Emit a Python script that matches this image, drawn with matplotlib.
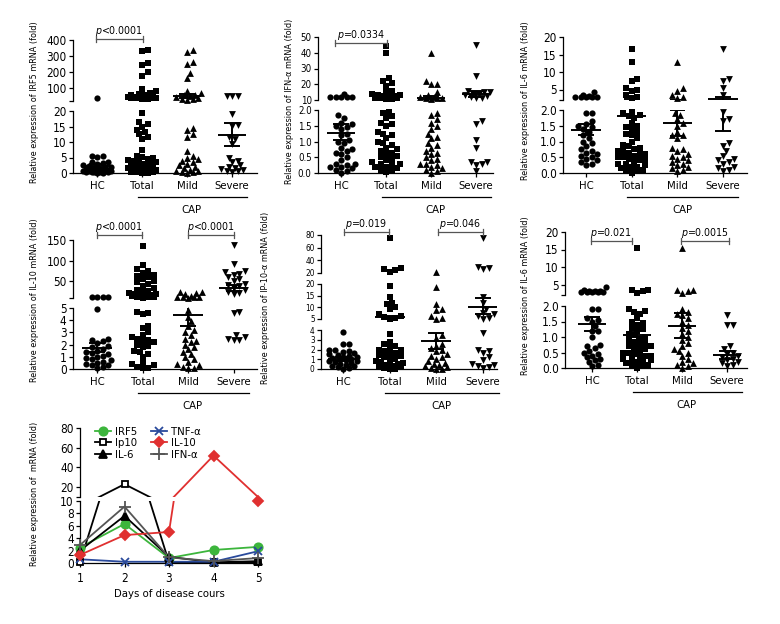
import numpy as np
import matplotlib
matplotlib.use("Agg")
import matplotlib.pyplot as plt
from matplotlib import font_manager as fm
from matplotlib.lines import Line2D

# pick a narrow face if one is installed
faces = {(f.name, f.stretch) for f in fm.fontManager.ttflist}
names = {n for n, s in faces}
if "Liberation Sans Narrow" in names:
    FAMILY, STRETCH, SCALE = "Liberation Sans Narrow", "normal", 1.0
elif ("DejaVu Sans", "condensed") in faces:
    FAMILY, STRETCH, SCALE = "DejaVu Sans", "condensed", 0.9
else:
    FAMILY, STRETCH, SCALE = "Liberation Sans", "normal", 0.85

plt.rcParams["font.family"] = [FAMILY, "DejaVu Sans"]
plt.rcParams["font.stretch"] = STRETCH
plt.rcParams["mathtext.fontset"] = "custom"
plt.rcParams["mathtext.it"] = FAMILY + ":italic"
plt.rcParams["mathtext.rm"] = FAMILY
plt.rcParams["axes.linewidth"] = 0.9

W, H = 780, 624
groups = ["HC", "Total", "Mild", "Severe"]
markers = ["o", "s", "^", "v"]

# ---- IRF5 ----
irf5_hc = [40, 5.5, 5.2, 5.4, 3.6, 3.2, 3.0, 3.4, 2.5, 2.2, 2.0, 1.8, 1.5, 1.3, 1.2,
           1.0, 1.0, 0.9, 0.8, 0.7, 0.6, 0.5, 0.5, 0.4, 0.3, 0.3, 0.2, 0.2, 0.1, 0.1]
irf5_total = [340, 330, 255, 245, 200, 175, 95, 80, 70, 65, 60, 55, 50, 48, 45, 44, 43,
              42, 41, 40, 40, 39, 38, 37, 36, 35, 33,
              19.5, 16.5, 15.8, 15, 14, 13.2, 12.5, 11.5, 11, 7.5, 5.5, 5.2, 4.8, 4.5,
              4.2, 4, 3.8, 3.5, 3.2, 3, 2.8, 2.5, 2.3, 2, 1.8, 1.5, 1.2, 1, 0.8, 0.6,
              0.5, 0.4, 0.3, 0.2, 0.1, 0.1]
irf5_mild = [340, 325, 260, 250, 195, 165, 85, 70, 60, 55, 50, 45, 40, 35, 30, 25,
             14.5, 14, 12.5, 11.5, 7, 5.5, 5, 4.5, 4, 3.5, 3, 2.5, 2, 1.5, 1, 0.8,
             0.5, 0.3, 0.2, 0.1]
irf5_severe = [50, 50, 50, 19, 15.5, 15.2, 11.5, 11, 9.5, 5, 4, 3.5, 2.5, 2, 1.5, 1.2,
               1, 0.8, 0.5, 0.3]
irf5_mean = [2.3, 40, 53, 12.3]
irf5_lo = [1.6, 34, 40, 8.7]
irf5_hi = [3.0, 47, 66, 16.0]

# ---- IFN-alpha ----
ifna_hc = [14, 12, 12, 12, 12, 12, 1.85, 1.75, 1.6, 1.55, 1.5, 1.45, 1.4, 1.25, 1.2,
           1.05, 1.0, 0.95, 0.8, 0.75, 0.7, 0.65, 0.6, 0.5, 0.4, 0.3, 0.3, 0.25, 0.2,
           0.2, 0.15, 0.1, 0.05, 0.0]
ifna_total = [44, 40, 24, 22, 21, 19, 16, 15, 14, 13, 13, 12.5, 12, 12, 11.5, 11, 11,
              10.5, 10.5, 1.95, 1.9, 1.8, 1.75, 1.6, 1.55, 1.5, 1.3, 1.25, 1.2, 1.1,
              1.0, 0.95, 0.9, 0.8, 0.75, 0.7, 0.65, 0.6, 0.55, 0.5, 0.45, 0.4, 0.35,
              0.3, 0.3, 0.25, 0.2, 0.2, 0.15, 0.1, 0.05, 0.02]
ifna_mild = [40, 22, 20, 20, 15, 13, 12, 12, 11.5, 11, 11, 10.5, 1.9, 1.85, 1.7, 1.6,
             1.5, 1.4, 1.25, 1.15, 1.1, 0.95, 0.9, 0.8, 0.7, 0.65, 0.6, 0.5, 0.45,
             0.4, 0.3, 0.3, 0.25, 0.2, 0.15, 0.1, 0.05, 0.0]
ifna_severe = [45, 25, 16, 15, 15, 14, 13.5, 13, 12.5, 12, 11.5, 11, 1.65, 1.55, 1.05,
               0.8, 0.35, 0.35, 0.3, 0.25, 0.05]
ifna_mean = [1.27, 12, 11, 14]
ifna_lo = [1.05, 10.5, 10, 12]
ifna_hi = [1.55, 13.5, 12.5, 16]

# ---- IL-6 (top row) ----
il6a_hc = [4.3, 3.5, 3, 2.8, 2.8, 2.8, 2.9, 3.2, 1.9, 1.9, 1.65, 1.55, 1.5, 1.45, 1.4,
           1.3, 1.2, 1.1, 1.0, 0.95, 0.85, 0.75, 0.7, 0.65, 0.6, 0.55, 0.5, 0.45, 0.4,
           0.35, 0.3, 0.25]
il6a_total = [16.5, 13, 8, 7.5, 5.5, 5, 4.5, 3.5, 3, 2.5, 1.95, 1.9, 1.85, 1.8, 1.75,
              1.6, 1.5, 1.45, 1.4, 1.3, 1.25, 1.2, 1.1, 1.0, 0.9, 0.85, 0.8, 0.75, 0.7,
              0.7, 0.65, 0.6, 0.6, 0.55, 0.5, 0.5, 0.45, 0.4, 0.4, 0.35, 0.3, 0.3,
              0.25, 0.2, 0.2, 0.15, 0.1, 0.1, 0.05, 0.0]
il6a_mild = [13, 5.5, 4.5, 3.5, 3, 2.5, 1.9, 1.85, 1.7, 1.6, 1.5, 1.3, 1.2, 1.2, 1.1,
             0.8, 0.75, 0.7, 0.6, 0.55, 0.5, 0.45, 0.4, 0.35, 0.3, 0.25, 0.2, 0.15,
             0.1, 0.05]
il6a_severe = [16.5, 8, 7.5, 5.5, 3.5, 1.95, 1.7, 1.65, 0.95, 0.85, 0.7, 0.55, 0.45,
               0.4, 0.35, 0.3, 0.2, 0.15, 0.1, 0.05]
il6a_mean = [1.37, 1.8, 1.58, 2.3]
il6a_lo = [1.2, 1.43, 1.17, 1.33]
il6a_hi = [1.55, 2.17, 2.0, 3.0]

# ---- IL-10 ----
il10_hc = [12, 12, 12, 12, 4.9, 2.5, 2.4, 2.3, 2.1, 1.9, 1.8, 1.6, 1.5, 1.4, 1.3, 1.2,
           1.1, 1.0, 0.9, 0.8, 0.7, 0.6, 0.5, 0.4, 0.3, 0.3, 0.2, 0.1]
il10_total = [135, 90, 80, 75, 70, 65, 62, 60, 55, 50, 48, 45, 40, 35, 30, 28, 25, 22,
              20, 20, 18, 16, 15, 14, 13, 12, 12, 11, 4.7, 4.6, 4.5, 3.5, 3.4, 3.0,
              2.8, 2.6, 2.5, 2.4, 2.3, 2.2, 2.0, 1.9, 1.8, 1.5, 1.4, 1.2, 1.0, 0.5,
              0.4, 0.3, 0.2, 0.1, 0.05]
il10_mild = [25, 25, 22, 20, 15, 13, 12, 12, 12, 11, 4.8, 4.3, 3.9, 3.5, 3.2, 3.0, 2.8,
             2.5, 2.3, 2.2, 2.0, 1.8, 1.6, 1.4, 1.2, 1.0, 0.8, 0.6, 0.4, 0.3, 0.2,
             0.1, 0.05]
il10_severe = [138, 92, 75, 72, 68, 65, 60, 55, 50, 45, 42, 38, 35, 30, 25, 22, 20,
               4.7, 4.6, 2.8, 2.6, 2.5, 2.4, 2.4]
il10_mean = [1.75, 17, 4.4, 35]
il10_lo = [1.4, 12, 3.5, 28]
il10_hi = [2.1, 22, 5.2, 42]

# ---- IP-10 ----
ip10_hc = [3.8, 2.6, 2.6, 2.0, 1.9, 1.8, 1.7, 1.6, 1.5, 1.4, 1.3, 1.2, 1.1, 1.0, 0.9,
           0.8, 0.7, 0.6, 0.5, 0.4, 0.3, 0.3, 0.2, 0.1, 0.05, 1.2, 1.0, 0.8]
ip10_total = [75, 28, 27, 25, 22, 19, 14.5, 12, 11.5, 10, 9.5, 7, 6.5, 6, 5.5, 5,
              3.6, 2.8, 2.6, 2.4, 2.2, 2.0, 1.9, 1.8, 1.6, 1.5, 1.4, 1.3, 1.2, 1.0,
              0.9, 0.8, 0.7, 0.6, 0.5, 0.4, 0.3, 0.3, 0.2, 0.1, 0.05, 0.0]
ip10_mild = [21, 18.5, 11.5, 9.5, 9, 6.5, 5.5, 5.0, 3.5, 3.2, 2.6, 2.4, 2.2, 2.0, 1.8,
             1.5, 1.3, 1.2, 1.0, 0.8, 0.6, 0.5, 0.4, 0.3, 0.2, 0.1, 0.05, 0.0]
ip10_severe = [75, 30, 28, 26, 14.5, 12, 9.5, 7.5, 7, 6.5, 5.5, 5.0, 3.7, 2.0, 1.8,
               1.6, 1.2, 0.9, 0.5, 0.4, 0.3, 0.2, 0.1]
ip10_mean = [1.0, 5.8, 2.9, 10.3]
ip10_lo = [0.8, 5.2, 2.1, 7.0]
ip10_hi = [1.2, 6.5, 3.7, 14.0]

# ---- IL-6 (second row) ----
il6b_hc = [4.3, 3.5, 3.2, 3.0, 3.0, 2.8, 2.8, 2.9, 3.1, 3.2, 1.9, 1.9, 1.6, 1.55, 1.5,
           1.35, 1.2, 1.2, 1.0, 0.75, 0.7, 0.65, 0.55, 0.5, 0.45, 0.4, 0.35, 0.3,
           0.25, 0.2, 0.1, 0.05]
il6b_total = [15.5, 3.5, 3.3, 3.2, 2.5, 1.9, 1.85, 1.8, 1.75, 1.6, 1.5, 1.45, 1.4, 1.3,
              1.25, 1.2, 1.1, 1.05, 1.0, 0.95, 0.9, 0.85, 0.8, 0.75, 0.7, 0.7, 0.65,
              0.6, 0.55, 0.5, 0.5, 0.45, 0.4, 0.4, 0.35, 0.3, 0.3, 0.25, 0.2, 0.2,
              0.15, 0.1, 0.1, 0.05, 0.0]
il6b_mild = [15.5, 3.5, 3.3, 3.2, 2.5, 1.9, 1.8, 1.75, 1.7, 1.6, 1.5, 1.4, 1.3, 1.2,
             1.1, 1.0, 0.9, 0.8, 0.7, 0.6, 0.55, 0.5, 0.4, 0.3, 0.2, 0.15, 0.1, 0.05,
             0.0]
il6b_severe = [1.7, 1.4, 1.38, 0.7, 0.6, 0.5, 0.45, 0.4, 0.35, 0.3, 0.25, 0.2, 0.15,
               0.1, 0.05]
il6b_mean = [1.42, 1.05, 1.37, 0.42]
il6b_lo = [1.2, 0.9, 0.97, 0.3]
il6b_hi = [1.65, 1.2, 1.77, 0.55]

# ---- time course ----
days = [1, 2, 3, 4, 5]
tc_irf5 = [2.5, 6.3, 0.8, 2.1, 2.6]
tc_ip10 = [0.1, 23, 0.1, 0.1, 0.1]
tc_il6 = [2.0, 7.6, 1.0, 0.1, 0.3]
tc_tnfa = [0.6, 0.2, 0.2, 0.2, 1.9]
tc_il10 = [1.3, 4.5, 5.0, 52, 10]
tc_ifna = [2.9, 9.1, 0.9, 0.3, 0.8]

FS_TICK = 9.4 * SCALE
FS_CAT = 9 * SCALE
FS_YLAB = 7.2 * SCALE
FS_P = 8.4 * SCALE


def fx(px):
    return px / W


def fy(py):
    return 1 - py / H


def px_axes(fig, x0, x1, y0, y1):
    return fig.add_axes([fx(x0), fy(y1), (x1 - x0) / W, (y1 - y0) / H])


def swarm(ys, d=5.5, maxw=14):
    xs = np.zeros(len(ys))
    placed = []
    for i in np.argsort(ys):
        y = ys[i]
        chosen, best_off, best_d = None, 0, -1
        for k in range(60):
            off = ((k + 1) // 2) * d * 0.5 * (1 if k % 2 else -1)
            if abs(off) > maxw:
                break
            dm = min([np.hypot(off - px, y - py) for px, py in placed] or [1e9])
            if dm >= d * 0.95:
                chosen = off
                break
            if dm > best_d:
                best_d, best_off = dm, off
        xs[i] = best_off if chosen is None else chosen
        placed.append((xs[i], y))
    return xs


def bracket(xa, xb, y, text):
    fig.add_artist(Line2D([fx(xa), fx(xb)], [fy(y), fy(y)], color="#555555", lw=0.9))
    for xx in (xa, xb):
        fig.add_artist(Line2D([fx(xx), fx(xx)], [fy(y - 3), fy(y + 3)],
                              color="#555555", lw=0.9))
    fig.text(fx((xa + xb) / 2), fy(y - 1), text, ha="center", va="bottom", fontsize=FS_P)


def dot_panel(x0, x1, xfirst, step, sections, data, means, lo, hi, ylabel, lab_x,
              tick_fs=FS_TICK):
    axes = []
    for j, (ylim, ticks, labels, ptop, pbot) in enumerate(sections):
        ax = px_axes(fig, x0, x1, ptop, pbot)
        ax.set_xlim((x0 - xfirst) / step, (x1 - xfirst) / step)
        ax.set_ylim(*ylim)
        ax.set_yticks(ticks)
        ax.set_yticklabels(labels)
        ax.tick_params(axis="y", length=3, width=0.9, pad=1.5, labelsize=tick_fs)
        for s in ("top", "right"):
            ax.spines[s].set_visible(False)
        if j < len(sections) - 1:
            ax.spines["bottom"].set_visible(False)
            ax.set_xticks([])
        else:
            ax.set_xticks(range(4))
            ax.set_xticklabels(groups, fontsize=FS_CAT)
            ax.tick_params(axis="x", length=3, width=0.9, pad=3)
        ax.patch.set_alpha(0)
        axes.append(ax)
    fig.canvas.draw()
    for g, vals in enumerate(data):
        vals = np.asarray(vals, float)
        which = []
        for v in vals:
            idx = len(sections) - 1
            for j in range(len(sections) - 1, -1, -1):
                if v <= sections[j][0][1] + 1e-9:
                    idx = j
                    break
            which.append(idx)
        ypix = np.array([axes[w].transData.transform((0, v))[1] for w, v in zip(which, vals)])
        offs = swarm(ypix) / step
        for j, ax in enumerate(axes):
            sel = np.array(which) == j
            if sel.any():
                ax.scatter(g + offs[sel], vals[sel], marker=markers[g], s=20 if g < 2 else 24,
                           color="black", linewidths=0, clip_on=False, zorder=3)
        for ax in axes:
            ax.hlines(means[g], g - 0.32, g + 0.32, color="black", lw=1.4, zorder=4)
            ax.hlines([lo[g], hi[g]], g - 0.17, g + 0.17, color="black", lw=1.4, zorder=4)
            ax.vlines(g, lo[g], hi[g], color="black", lw=1.4, zorder=4)
    ptop, pbot = sections[0][3], sections[-1][4]
    fig.text(fx(lab_x), fy((ptop + pbot) / 2 - 4), ylabel, rotation=90,
             ha="center", va="center", fontsize=FS_YLAB)
    # CAP group line
    ya = pbot + 24
    fig.add_artist(Line2D([fx(xfirst + step * 0.9), fx(xfirst + step * 3.33)],
                          [fy(ya), fy(ya)], color="black", lw=0.9))
    fig.text(fx(xfirst + step * 2.1), fy(ya + 13), "CAP", ha="center", va="center",
             fontsize=FS_CAT)
    return axes


fig = plt.figure(figsize=(W / 100, H / 100), dpi=100)

dot_panel(73, 257, 97, 45, [
    ((20, 400), [20, 100, 200, 300, 400], ["", "100", "200", "300", "400"], 40, 101),
    ((0, 20), [0, 5, 10, 15, 20], ["0", "5", "10", "15", "20"], 111, 173)],
    [irf5_hc, irf5_total, irf5_mild, irf5_severe], irf5_mean, irf5_lo, irf5_hi,
    "Relative expression of IRF5 mRNA (fold)", 35)
bracket(96, 143, 39, r"$p$<0.0001")

dot_panel(318, 493, 341, 45, [
    ((10, 50), [10, 20, 30, 40, 50], ["10", "20", "30", "40", "50"], 37, 100),
    ((0, 2), [0, 0.5, 1, 1.5, 2], ["0.0", "0.5", "1.0", "1.5", "2.0"], 110, 173)],
    [ifna_hc, ifna_total, ifna_mild, ifna_severe], ifna_mean, ifna_lo, ifna_hi,
    "Relative expression of IFN-α mRNA (fold)", 289, tick_fs=7.8 * SCALE)
bracket(335, 387, 43, r"$p$=0.0334")

dot_panel(563, 747, 586, 45.7, [
    ((2, 20), [2, 5, 10, 15, 20], ["", "5", "10", "15", "20"], 37, 100),
    ((0, 2), [0, 0.5, 1, 1.5, 2], ["0.0", "0.5", "1.0", "1.5", "2.0"], 110, 173)],
    [il6a_hc, il6a_total, il6a_mild, il6a_severe], il6a_mean, il6a_lo, il6a_hi,
    "Relative expression of IL-6 mRNA (fold)", 525)

dot_panel(73, 257, 97, 45.5, [
    ((10, 150), [10, 50, 100, 150], ["", "50", "100", "150"], 240, 298),
    ((0, 5), [0, 1, 2, 3, 4, 5], ["0", "1", "2", "3", "4", "5"], 308, 369)],
    [il10_hc, il10_total, il10_mild, il10_severe], il10_mean, il10_lo, il10_hi,
    "Relative expression of IL-10 mRNA (fold)", 35)
bracket(97, 142, 235, r"$p$<0.0001")
bracket(188, 234, 235, r"$p$<0.0001")

dot_panel(321, 497, 343, 46.7, [
    ((20, 80), [20, 40, 60, 80], ["20", "40", "60", "80"], 235, 273),
    ((5, 20), [5, 10, 15, 20], ["5", "10", "15", "20"], 284, 319),
    ((0, 4), [0, 1, 2, 3, 4], ["0", "1", "2", "3", "4"], 330, 369)],
    [ip10_hc, ip10_total, ip10_mild, ip10_severe], ip10_mean, ip10_lo, ip10_hi,
    "Relative expression of IP-10-α mRNA (fold)", 266, tick_fs=6.6 * SCALE)
bracket(344, 389, 232, r"$p$=0.019")
bracket(438, 483, 232, r"$p$=0.046")

dot_panel(565, 747, 592, 45, [
    ((2, 20), [2, 5, 10, 15, 20], ["", "5", "10", "15", "20"], 232, 295),
    ((0, 2), [0, 0.5, 1, 1.5, 2], ["0.0", "0.5", "1.0", "1.5", "2.0"], 306, 368)],
    [il6b_hc, il6b_total, il6b_mild, il6b_severe], il6b_mean, il6b_lo, il6b_hi,
    "Relative expression of IL-6 mRNA (fold)", 525)
bracket(591, 632, 241, r"$p$=0.021")
bracket(681, 729, 241, r"$p$=0.0015")

# ---- time course panel ----
series = [
    ("IRF5", tc_irf5, "#3cb53c", "o", "#3cb53c", 6),
    ("Ip10", tc_ip10, "black", "s", "white", 5),
    ("IL-6", tc_il6, "black", "^", "black", 5.5),
    ("TNF-α", tc_tnfa, "#2a4a9c", "x", "#2a4a9c", 6),
    ("IL-10", tc_il10, "#e03030", "D", "#e03030", 5),
    ("IFN-α", tc_ifna, "#555555", "+", "#555555", 8),
]
ax_up = px_axes(fig, 80, 258, 428, 497)
ax_lo = px_axes(fig, 80, 258, 501, 563)
ax_up.set_ylim(10, 80)
ax_up.set_yticks([10, 20, 40, 60, 80])
ax_up.set_yticklabels(["", "20", "40", "60", "80"])
ax_lo.set_ylim(0, 10)
ax_lo.set_yticks([0, 2, 4, 6, 8, 10])
for ax in (ax_up, ax_lo):
    ax.set_xlim(1, 5)
    ax.spines["top"].set_visible(False)
    ax.spines["right"].set_visible(False)
    ax.tick_params(axis="y", length=3, width=0.9, pad=1.5, labelsize=FS_TICK)
    ax.patch.set_alpha(0)
ax_up.spines["bottom"].set_visible(False)
ax_up.set_xticks([])
ax_lo.set_xticks(days)
ax_lo.tick_params(axis="x", length=3, width=0.9, labelsize=FS_TICK)
ax_lo.set_xlabel("Days of disease cours", fontsize=FS_CAT, labelpad=3)

handles = []
for name, vals, col, mk, face, ms in series:
    vals = np.asarray(vals, float)
    for ax in (ax_up, ax_lo):
        ax.plot(days, vals, color=col, lw=1.3, zorder=2)
    up = vals > 10
    ax_up.plot(np.array(days)[up], vals[up], ls="none", marker=mk, ms=ms, mfc=face,
               mec=col, mew=1.3, clip_on=False, zorder=3)
    ax_lo.plot(np.array(days)[~up], vals[~up], ls="none", marker=mk, ms=ms, mfc=face,
               mec=col, mew=1.3, clip_on=False, zorder=3)
    handles.append(Line2D([], [], color=col, lw=1.3, marker=mk, ms=ms, mfc=face,
                          mec=col, mew=1.3, label=name))
ax_up.legend(handles=handles, ncol=2, frameon=False, fontsize=FS_CAT, loc="upper left",
             bbox_to_anchor=(0.05, 1.1), handlelength=1.5, handletextpad=0.3,
             columnspacing=1.2, labelspacing=0.15, borderpad=0)
fig.text(fx(35), fy(494), "Relative expression of  mRNA (fold)", rotation=90,
         ha="center", va="center", fontsize=FS_YLAB)

fig.savefig("out.png", dpi=100)
